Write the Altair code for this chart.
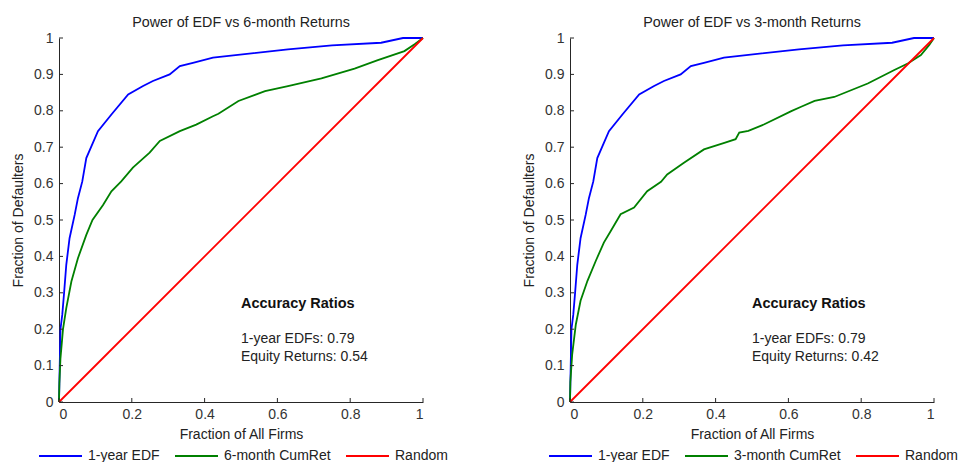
import altair as alt
import pandas as pd

# ---- data ----
edf_x = [0.0, 0.001, 0.002, 0.004, 0.009, 0.014, 0.020, 0.029, 0.043, 0.052, 0.064, 0.075,
         0.107, 0.144, 0.190, 0.231, 0.258, 0.304, 0.332, 0.368, 0.423, 0.629, 0.750,
         0.885, 0.945, 1.0]
edf_y = [0.0, 0.050, 0.100, 0.200, 0.240, 0.300, 0.377, 0.450, 0.514, 0.560, 0.606, 0.670,
         0.744, 0.790, 0.845, 0.868, 0.882, 0.900, 0.923, 0.932, 0.946, 0.969, 0.980,
         0.987, 1.0, 1.0]

ret6_x = [0.0, 0.001, 0.004, 0.011, 0.020, 0.034, 0.052, 0.075, 0.092, 0.121, 0.144, 0.171,
          0.203, 0.249, 0.277, 0.332, 0.377, 0.423, 0.438, 0.493, 0.566, 0.629, 0.721,
          0.812, 0.876, 0.949, 0.977, 1.0]
ret6_y = [0.0, 0.050, 0.120, 0.200, 0.258, 0.331, 0.395, 0.459, 0.500, 0.541, 0.579, 0.606,
          0.644, 0.685, 0.717, 0.744, 0.762, 0.785, 0.792, 0.827, 0.854, 0.868, 0.889,
          0.916, 0.939, 0.964, 0.983, 1.0]

ret3_x = [0.0, 0.001, 0.006, 0.016, 0.029, 0.048, 0.071, 0.093, 0.112, 0.139, 0.176, 0.212,
          0.250, 0.267, 0.313, 0.368, 0.424, 0.455, 0.465, 0.490, 0.534, 0.608, 0.635,
          0.672, 0.726, 0.818, 0.891, 0.928, 0.964, 0.987, 1.0]
ret3_y = [0.0, 0.055, 0.131, 0.213, 0.278, 0.333, 0.388, 0.438, 0.470, 0.516, 0.534, 0.579,
          0.605, 0.625, 0.657, 0.694, 0.712, 0.722, 0.740, 0.745, 0.763, 0.799, 0.811,
          0.827, 0.838, 0.875, 0.912, 0.930, 0.953, 0.981, 1.0]

random_x = [0.0, 1.0]
random_y = [0.0, 1.0]

tick_values = [0, 0.2, 0.4, 0.6, 0.8, 1]
ytick_values = [0, 0.1, 0.2, 0.3, 0.4, 0.5, 0.6, 0.7, 0.8, 0.9, 1]

titles = ["Power of EDF vs 6-month Returns", "Power of EDF vs 3-month Returns"]
ret_labels = ["6-month CumRet", "3-month CumRet"]
ar_edf = [0.79, 0.79]
ar_equity = [0.54, 0.42]

colors = ["#0000FF", "#008000", "#FF0000"]
FONT = "Liberation Sans"
FS = 14
W = 364
H = 364

XAXIS = alt.Axis(values=tick_values, title="Fraction of All Firms", grid=False,
                 ticks=False, tickSize=0, labelPadding=5, titlePadding=6,
                 labelOverlap=False, format="~g")
YAXIS = alt.Axis(values=ytick_values, title="Fraction of Defaulters", grid=False,
                 ticks=False, tickSize=0, labelPadding=6, titlePadding=8,
                 labelOverlap=False, format="~g")
XSCALE = alt.Scale(domain=[0, 1], nice=False, zero=False)
YSCALE = alt.Scale(domain=[0, 1], nice=False, zero=False)


def panel(title, ret_label, rx, ry, a_edf, a_eq, lx):
    rows = []
    for s, xs, ys in [("1-year EDF", edf_x, edf_y), (ret_label, rx, ry), ("Random", random_x, random_y)]:
        for i, (x, y) in enumerate(zip(xs, ys)):
            rows.append({"series": s, "x": x, "y": y, "order": i})
    df = pd.DataFrame(rows)
    domain = ["1-year EDF", ret_label, "Random"]

    lines = alt.Chart(df).mark_line(strokeWidth=1.8).encode(
        x=alt.X("x:Q", scale=XSCALE, axis=XAXIS),
        y=alt.Y("y:Q", scale=YSCALE, axis=YAXIS),
        color=alt.Color("series:N", scale=alt.Scale(domain=domain, range=colors),
                        sort=domain,
                        legend=alt.Legend(title=None, orient="none", direction="horizontal",
                                          legendX=lx, legendY=410, clipHeight=16,
                                          symbolType="stroke", symbolSize=1849,
                                          symbolStrokeWidth=1.8, labelFontSize=FS,
                                          labelFont=FONT, labelColor="#222222",
                                          labelOffset=5, columnPadding=14,
                                          symbolOffset=0, padding=0)),
        order="order:Q",
    )

    xt = pd.DataFrame({"x": tick_values})
    yt = pd.DataFrame({"y": ytick_values})
    xticks = alt.Chart(xt).mark_rule(color="#262626", strokeWidth=1).encode(
        x=alt.X("x:Q", scale=XSCALE, axis=XAXIS), y=alt.value(H), y2=alt.value(H - 4))
    yticks = alt.Chart(yt).mark_rule(color="#262626", strokeWidth=1).encode(
        y=alt.Y("y:Q", scale=YSCALE, axis=YAXIS), x=alt.value(0), x2=alt.value(4))

    head = pd.DataFrame({"x": [0.5], "y": [0.268], "t": ["Accuracy Ratios"]})
    body = pd.DataFrame({"x": [0.5, 0.5], "y": [0.174, 0.124],
                         "t": [f"1-year EDFs: {a_edf:.2f}", f"Equity Returns: {a_eq:.2f}"]})
    t1 = alt.Chart(head).mark_text(align="left", baseline="middle", fontSize=14.5,
                                   fontWeight="bold", font=FONT, color="#111111").encode(
        x=alt.X("x:Q", scale=XSCALE, axis=XAXIS), y=alt.Y("y:Q", scale=YSCALE, axis=YAXIS),
        text="t:N")
    t2 = alt.Chart(body).mark_text(align="left", baseline="middle", fontSize=FS,
                                   font=FONT, color="#222222").encode(
        x=alt.X("x:Q", scale=XSCALE, axis=XAXIS), y=alt.Y("y:Q", scale=YSCALE, axis=YAXIS),
        text="t:N")

    return alt.layer(lines, xticks, yticks, t1, t2).properties(
        width=W, height=H,
        title=alt.TitleParams(title, fontSize=14.3, fontWeight="normal", font=FONT,
                              color="#222222", offset=1, anchor="middle"))


left = panel(titles[0], ret_labels[0], ret6_x, ret6_y, ar_edf[0], ar_equity[0], -21)
right = panel(titles[1], ret_labels[1], ret3_x, ret3_y, ar_edf[1], ar_equity[1], -22)

chart = alt.hconcat(left, right, spacing=74).resolve_scale(color="independent").resolve_legend(
    color="independent").properties(
    padding={"left": 3, "top": 7, "right": 0, "bottom": 0}).configure(
    background="white").configure_view(stroke=None).configure_axis(
    domainColor="#262626", labelColor="#333333", titleColor="#222222",
    labelFont=FONT, titleFont=FONT, labelFontSize=FS, titleFontSize=FS,
    titleFontWeight="normal")

chart.save("out.html", embed_options={"renderer": "svg", "actions": False})
